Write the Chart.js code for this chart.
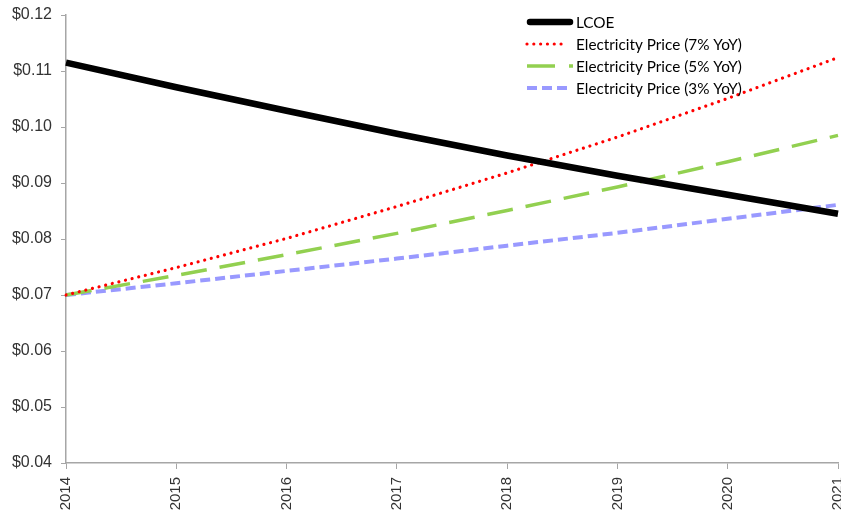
<!DOCTYPE html>
<html>
<head>
<meta charset="utf-8">
<script src="https://cdn.jsdelivr.net/npm/chart.js@4.4.1/dist/chart.umd.min.js"></script>
<style>
  html, body { margin: 0; padding: 0; background: #fff; }
  #wrap { width: 841px; height: 515px; }
</style>
</head>
<body>
<div id="wrap"><canvas id="c" width="841" height="515"></canvas></div>
<script>
// Years on the horizontal axis
const years = ['2014', '2015', '2016', '2017', '2018', '2019', '2020', '2021'];

// Levelized cost of energy ($/kWh)
const lcoe = [0.1115, 0.1071, 0.1029, 0.0988, 0.0949, 0.0913, 0.0879, 0.0845];

// Retail electricity price under three growth scenarios ($/kWh)
const price7 = [0.0700, 0.0749, 0.0801, 0.0858, 0.0918, 0.0982, 0.1051, 0.1124];
const price5 = [0.0700, 0.0735, 0.0772, 0.0810, 0.0851, 0.0893, 0.0938, 0.0985];
const price3 = [0.0700, 0.0721, 0.0743, 0.0765, 0.0788, 0.0811, 0.0836, 0.0861];

// Value axis range and step
const yMin = 0.04, yMax = 0.12, yStep = 0.01;

const seriesNames = ['LCOE', 'Electricity Price (7% YoY)', 'Electricity Price (5% YoY)', 'Electricity Price (3% YoY)'];

const axisGrey = '#A6A6A6';
const xTickFont = { family: 'Liberation Sans, Arial, sans-serif', size: 15 };
const yTickFont = { family: 'Liberation Sans, Arial, sans-serif', size: 16 };

// Legend drawn inside the plot, top right, with line samples matching each series
const insideLegend = {
  id: 'insideLegend',
  afterDraw(chart) {
    const ctx = chart.ctx;
    const x0 = 527, x1 = 567, textX = 576;
    const rows = [22, 44, 66, 88];
    ctx.save();
    ctx.font = '15.3px Lato, "Open Sans", sans-serif';
    ctx.textBaseline = 'middle';
    ctx.fillStyle = '#000';
    chart.data.datasets.forEach((ds, i) => {
      const y = rows[i];
      const sample = ds.legendSample || {};
      ctx.save();
      ctx.strokeStyle = ds.borderColor;
      ctx.lineWidth = ds.borderWidth;
      ctx.lineCap = sample.cap || ds.borderCapStyle || 'butt';
      ctx.setLineDash(sample.dash || ds.borderDash || []);
      ctx.beginPath();
      ctx.moveTo(sample.start || x0, y);
      ctx.lineTo(sample.end || x1, y);
      ctx.stroke();
      ctx.restore();
      ctx.fillText(ds.label, textX, y + 1);
    });
    ctx.restore();
  }
};

new Chart(document.getElementById('c'), {
  type: 'line',
  data: {
    labels: years,
    datasets: [
      {
        label: seriesNames[0], data: lcoe,
        borderColor: '#000000', borderWidth: 6.5,
        borderCapStyle: 'butt', borderJoinStyle: 'round',
        legendSample: { dash: [], cap: 'round', start: 530, end: 570 }
      },
      {
        label: seriesNames[1], data: price7,
        borderColor: '#FF0000', borderWidth: 3.2,
        borderCapStyle: 'round', borderDash: [0.01, 6.8]
      },
      {
        label: seriesNames[2], data: price5,
        borderColor: '#92D050', borderWidth: 3.5,
        borderCapStyle: 'butt', borderDash: [26, 13],
        legendSample: { dash: [28, 14, 4, 20], end: 573 }
      },
      {
        label: seriesNames[3], data: price3,
        borderColor: '#9999FF', borderWidth: 4,
        borderCapStyle: 'butt', borderDash: [10, 5],
        legendSample: { dash: [10, 5] }
      }
    ]
  },
  options: {
    responsive: false,
    animation: false,
    layout: { padding: { top: 15, right: 3, left: 0, bottom: 0 } },
    elements: { point: { radius: 0 }, line: { tension: 0 } },
    plugins: { legend: { display: false }, tooltip: { enabled: false } },
    scales: {
      x: {
        offset: false,
        grid: { display: true, drawOnChartArea: false, color: axisGrey, tickLength: 6 },
        border: { color: axisGrey, width: 1.5 },
        ticks: { color: '#333333', font: xTickFont, minRotation: 90, maxRotation: 90, padding: 8 },
        afterFit(scale) { scale.height = 52; scale.paddingLeft = 0; scale.paddingRight = 0; }
      },
      y: {
        min: yMin, max: yMax,
        grid: { display: true, drawOnChartArea: false, color: axisGrey, tickLength: 5 },
        border: { color: axisGrey, width: 1.5 },
        ticks: {
          stepSize: yStep, color: '#333333', font: yTickFont, padding: 9,
          callback: v => '$' + v.toFixed(2)
        },
        afterFit(scale) { scale.width = 66; scale.paddingTop = 0; scale.paddingBottom = 0; }
      }
    }
  },
  plugins: [insideLegend]
});
</script>
</body>
</html>
